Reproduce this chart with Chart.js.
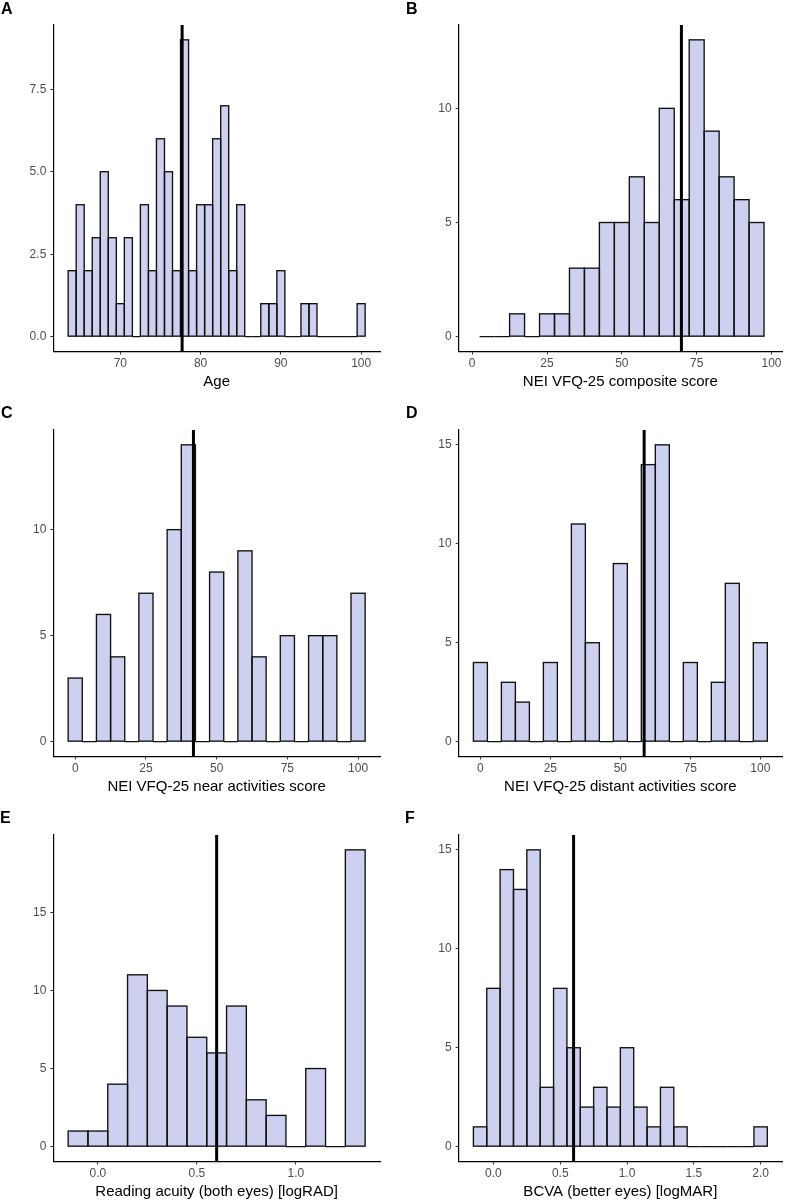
<!DOCTYPE html>
<html>
<head>
<meta charset="utf-8">
<script src="https://cdn.jsdelivr.net/npm/chart.js@4.4.0/dist/chart.umd.min.js"></script>
<style>
  body { margin: 0; background: #fff; }
  #page { position: relative; width: 785px; height: 1200px; overflow: hidden; background: #fff;
          font-family: "Liberation Sans", Arial, sans-serif; }
  canvas { position: absolute; }
  .tag { position: absolute; font-weight: bold; font-size: 16px; line-height: 1; color: #000; z-index: 2; }
</style>
</head>
<body>
<div id="page"></div>
<script>
// ---- data (bin centres, counts, medians, tick labels) ----
const ageBins = [64, 65, 66, 67, 68, 69, 70, 71, 72, 73, 74, 75, 76, 77, 78, 79, 80, 81, 82,
                 83, 84, 85, 86, 87, 88, 89, 90, 91, 92, 93, 94, 95, 96, 97, 98, 99, 100];
const ageCounts = [2, 4, 2, 3, 5, 3, 1, 3, 0, 4, 2, 6, 5, 2, 9, 2, 4, 4, 6,
                   7, 2, 4, 0, 0, 1, 1, 2, 0, 0, 1, 1, 0, 0, 0, 0, 0, 1];
const ageMedian = 77.7;
const ageXTicks = [70, 80, 90, 100];
const ageYTicks = [0, 2.5, 5, 7.5];

const compositeBins = [5, 10, 15, 20, 25, 30, 35, 40, 45, 50, 55, 60, 65, 70, 75, 80, 85, 90, 95];
const compositeCounts = [0, 0, 1, 0, 1, 1, 3, 3, 5, 5, 7, 5, 10, 6, 13, 9, 7, 6, 5];
const compositeMedian = 69.9;

const scoreBins = [0, 5, 10, 15, 20, 25, 30, 35, 40, 45, 50, 55, 60, 65, 70, 75, 80, 85, 90, 95, 100];
const nearCounts = [3, 0, 6, 4, 0, 7, 0, 10, 14, 0, 8, 0, 9, 4, 0, 5, 0, 5, 5, 0, 7];
const nearMedian = 41.8;
const distantCounts = [4, 0, 3, 2, 0, 4, 0, 11, 5, 0, 9, 0, 14, 15, 0, 4, 0, 3, 8, 0, 5];
const distantMedian = 58.5;
const scoreXTicks = [0, 25, 50, 75, 100];

const readingBins = [-0.1, 0.0, 0.1, 0.2, 0.3, 0.4, 0.5, 0.6, 0.7, 0.8, 0.9, 1.0, 1.1, 1.2, 1.3];
const readingCounts = [1, 1, 4, 11, 10, 9, 7, 6, 9, 3, 2, 0, 5, 0, 19];
const readingMedian = 0.60;
const readingXTicks = [0.0, 0.5, 1.0];

const bcvaBins = [-0.1, 0.0, 0.1, 0.2, 0.3, 0.4, 0.5, 0.6, 0.7, 0.8, 0.9, 1.0, 1.1,
                  1.2, 1.3, 1.4, 1.5, 1.6, 1.7, 1.8, 1.9, 2.0];
const bcvaCounts = [1, 8, 14, 13, 15, 3, 8, 5, 2, 3, 2, 5, 2, 1, 3, 1, 0, 0, 0, 0, 0, 1];
const bcvaMedian = 0.60;
const bcvaXTicks = [0.0, 0.5, 1.0, 1.5, 2.0];

const yTicks5 = [0, 5, 10];
const yTicks15 = [0, 5, 10, 15];

// ---- styling ----
const FONT = '"Liberation Sans", Arial, sans-serif';
const BAR_FILL = '#CDD0EE';
const BAR_LINE = '#111';

// outlines every bin (zero bins become a flat line) and adds the median line
const histOutline = {
    id: 'histOutline',
    afterDatasetsDraw(chart, args, opts) {
        const ctx = chart.ctx;
        const meta = chart.getDatasetMeta(0);
        ctx.save();
        ctx.strokeStyle = BAR_LINE;
        ctx.lineWidth = 1.35;
        meta.data.forEach(bar => {
            const p = bar.getProps(['x', 'y', 'base', 'width'], true);
            const top = Math.min(p.y, p.base);
            ctx.strokeRect(p.x - p.width / 2, top, p.width, Math.abs(p.base - p.y));
        });
        // median
        const mx = chart.scales.x.getPixelForValue(opts.median);
        ctx.strokeStyle = '#000';
        ctx.lineWidth = 3;
        ctx.beginPath();
        ctx.moveTo(mx, chart.chartArea.top);
        ctx.lineTo(mx, chart.chartArea.bottom);
        ctx.stroke();
        ctx.restore();
    }
};

function expandRange(bins, width) {
    const lo = bins[0] - width / 2;
    const hi = bins[bins.length - 1] + width / 2;
    const pad = (hi - lo) * 0.05;
    return [lo - pad, hi + pad];
}

function makePanel(p) {
    const page = document.getElementById('page');
    const canvas = document.createElement('canvas');
    canvas.width = p.w;
    canvas.height = 400;
    canvas.style.left = p.left + 'px';
    canvas.style.top = p.top + 'px';
    page.appendChild(canvas);

    const tag = document.createElement('div');
    tag.className = 'tag';
    tag.textContent = p.tag;
    tag.style.left = p.tagX + 'px';
    tag.style.top = p.tagY + 'px';
    page.appendChild(tag);

    const maxCount = Math.max(...p.counts);
    const xr = p.xRange || expandRange(p.bins, p.binWidth);

    new Chart(canvas.getContext('2d'), {
        type: 'bar',
        data: {
            datasets: [{
                data: p.bins.map((b, i) => ({ x: b, y: p.counts[i] })),
                backgroundColor: BAR_FILL,
                borderWidth: 0,
                inflateAmount: 0,
                barPercentage: 1,
                categoryPercentage: 1
            }]
        },
        options: {
            responsive: false,
            animation: false,
            devicePixelRatio: 1,
            layout: { padding: { top: 25, right: p.padR, left: 0, bottom: 0 } },
            plugins: {
                legend: { display: false },
                tooltip: { enabled: false },
                histOutline: { median: p.median }
            },
            scales: {
                x: {
                    type: 'linear',
                    min: xr[0],
                    max: xr[1],
                    offset: false,
                    grid: { display: true, offset: false, drawOnChartArea: false, drawTicks: true,
                            tickLength: 3, tickColor: '#333', tickWidth: 1 },
                    border: { display: true, color: '#000', width: 1.2 },
                    ticks: {
                        color: '#4d4d4d', font: { family: FONT, size: 12 }, padding: 2,
                        maxRotation: 0, autoSkip: false,
                        callback: v => v.toFixed(p.xDec)
                    },
                    afterBuildTicks: s => { s.ticks = p.xTicks.map(v => ({ value: v })); },
                    afterFit: s => { s.height = 48.5; },
                    title: {
                        display: true, text: p.xTitle, color: '#000',
                        font: { family: FONT, size: 15 }, padding: { top: 0, bottom: 9.5 }
                    }
                },
                y: {
                    type: 'linear',
                    min: -0.05 * maxCount,
                    max: 1.05 * maxCount,
                    grid: { display: true, drawOnChartArea: false, drawTicks: true,
                            tickLength: 3, tickColor: '#333', tickWidth: 1 },
                    border: { display: true, color: '#000', width: 1.2 },
                    ticks: {
                        color: '#4d4d4d', font: { family: FONT, size: 12 }, padding: 4,
                        callback: v => v.toFixed(p.yDec)
                    },
                    afterBuildTicks: s => { s.ticks = p.yTicks.map(v => ({ value: v })); },
                    afterFit: s => { s.width = p.yW; }
                }
            }
        },
        plugins: [histOutline]
    });
}

const LEFT = { left: 0, w: 392, yW: 53.3, padR: 12, tagX: 1 };
const RIGHT = { left: 392, w: 393, yW: 66.7, padR: 3, tagX: 406 };

makePanel(Object.assign({}, LEFT, {
    tag: 'A', top: 0, tagY: 1, bins: ageBins, counts: ageCounts, binWidth: 1,
    median: ageMedian, xTicks: ageXTicks, yTicks: ageYTicks, xDec: 0, yDec: 1, xTitle: 'Age'
}));
makePanel(Object.assign({}, RIGHT, {
    tag: 'B', top: 0, tagY: 1, bins: compositeBins, counts: compositeCounts, binWidth: 5,
    xRange: [-4.5, 103.5], median: compositeMedian, xTicks: scoreXTicks, yTicks: yTicks5,
    xDec: 0, yDec: 0, xTitle: 'NEI VFQ-25 composite score'
}));
makePanel(Object.assign({}, LEFT, {
    tag: 'C', top: 405, tagY: 405, bins: scoreBins, counts: nearCounts, binWidth: 5,
    median: nearMedian, xTicks: scoreXTicks, yTicks: yTicks5, xDec: 0, yDec: 0,
    xTitle: 'NEI VFQ-25 near activities score'
}));
makePanel(Object.assign({}, RIGHT, {
    tag: 'D', top: 405, tagY: 405, bins: scoreBins, counts: distantCounts, binWidth: 5,
    median: distantMedian, xTicks: scoreXTicks, yTicks: yTicks15, xDec: 0, yDec: 0,
    xTitle: 'NEI VFQ-25 distant activities score'
}));
makePanel(Object.assign({}, LEFT, {
    tag: 'E', top: 810, tagY: 810, tagX: 0, bins: readingBins, counts: readingCounts, binWidth: 0.1,
    median: readingMedian, xTicks: readingXTicks, yTicks: yTicks15, xDec: 1, yDec: 0,
    xTitle: 'Reading acuity (both eyes) [logRAD]'
}));
makePanel(Object.assign({}, RIGHT, {
    tag: 'F', top: 810, tagY: 810, tagX: 405, bins: bcvaBins, counts: bcvaCounts, binWidth: 0.1,
    median: bcvaMedian, xTicks: bcvaXTicks, yTicks: yTicks15, xDec: 1, yDec: 0,
    xTitle: 'BCVA (better eyes) [logMAR]'
}));
</script>
</body>
</html>
